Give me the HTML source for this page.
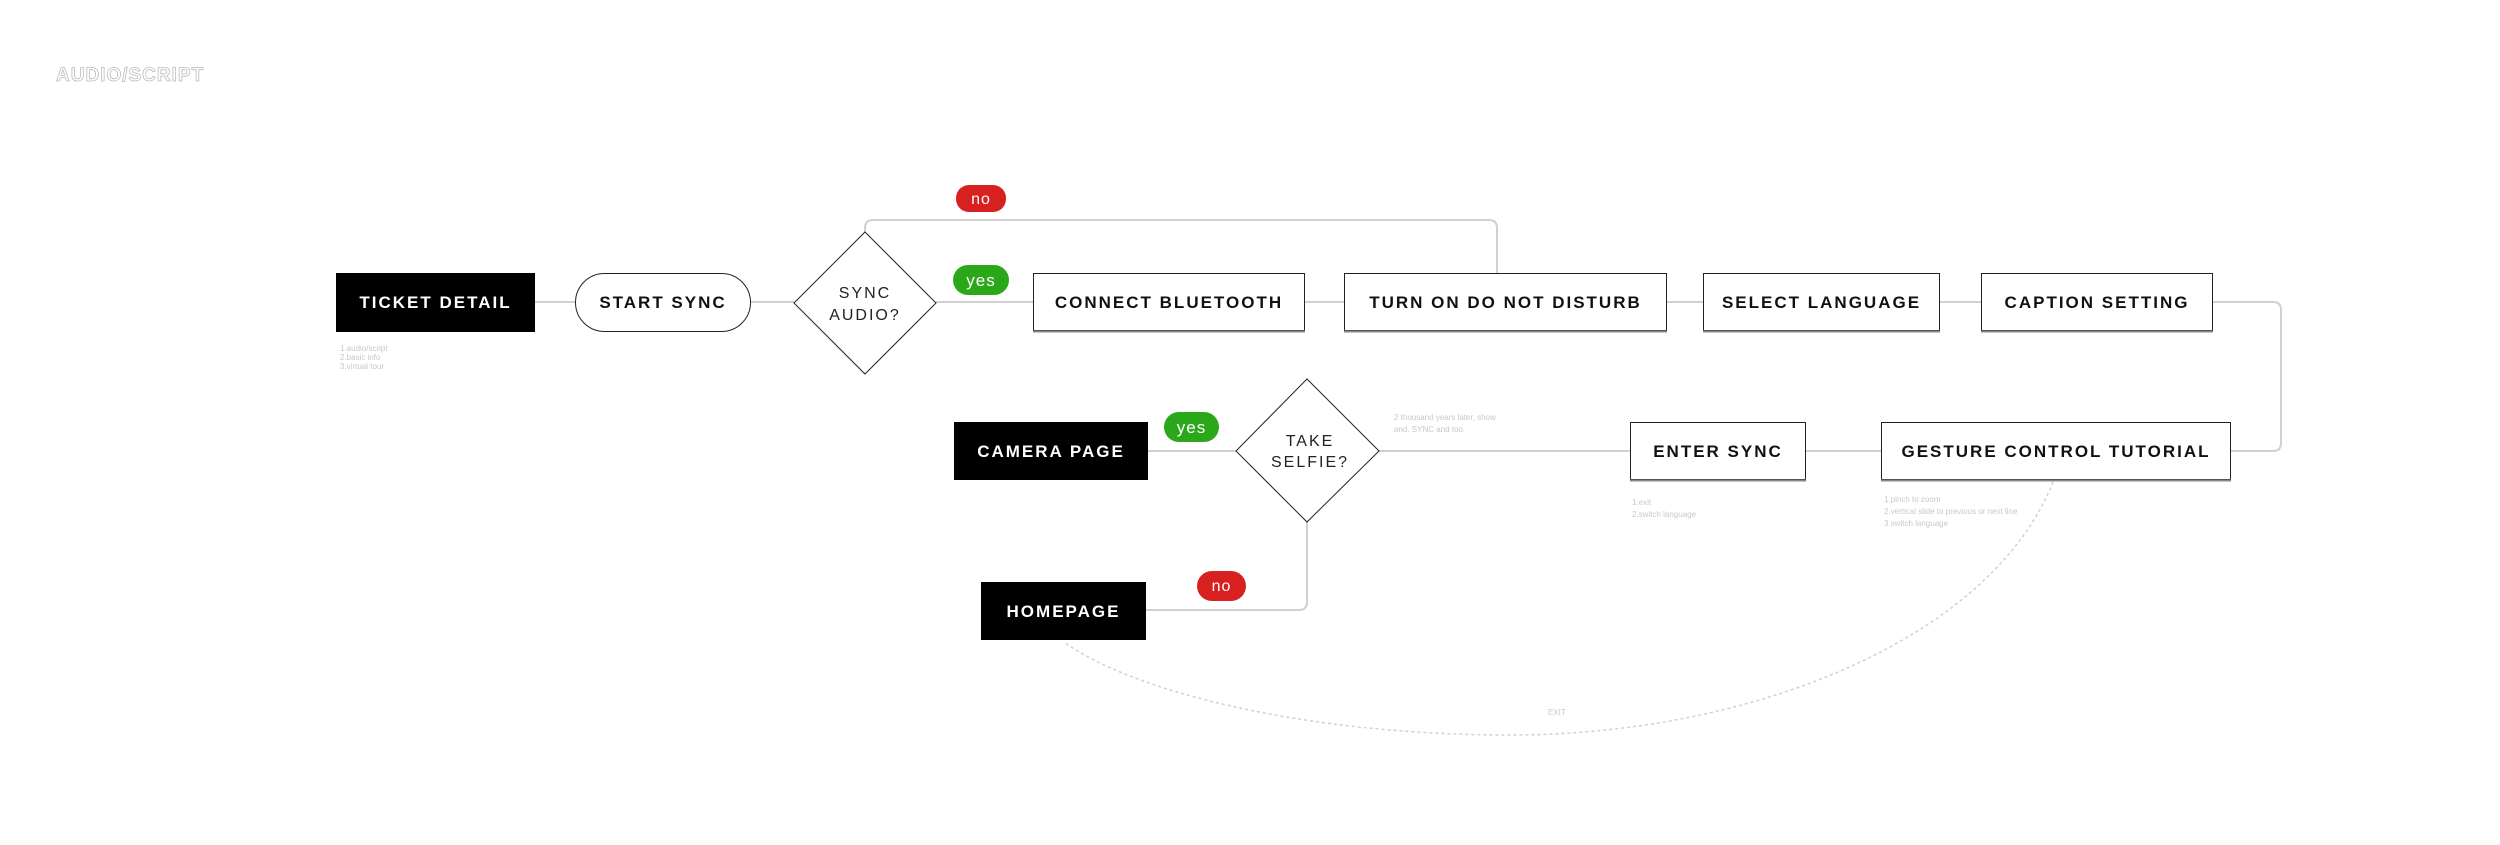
<!DOCTYPE html>
<html><head><meta charset="utf-8"><style>
html,body{margin:0;padding:0;background:#fff;}
svg{display:block;font-family:"Liberation Sans",sans-serif;}
.b{font-weight:bold;font-size:17px;letter-spacing:2px;}
.n{font-size:8px;fill:#c8c8c8;}
</style></head><body>
<svg width="2500" height="845" viewBox="0 0 2500 845" xmlns="http://www.w3.org/2000/svg">
<text x="56" y="81" font-size="19" font-weight="bold" fill="#fff" stroke="#bbb" stroke-width="0.8" letter-spacing="1">AUDIO/SCRIPT</text>

<g fill="none" stroke="#d0d0d0" stroke-width="2">
<line x1="535" y1="302" x2="575" y2="302"/>
<line x1="751" y1="302" x2="794" y2="302"/>
<line x1="936" y1="302" x2="1033" y2="302"/>
<line x1="1305" y1="302" x2="1344" y2="302"/>
<line x1="1667" y1="302" x2="1703" y2="302"/>
<line x1="1940" y1="302" x2="1981" y2="302"/>
<path d="M865,232 V228 Q865,220 873,220 H1489 Q1497,220 1497,228 V273"/>
<path d="M2213,302 H2273 Q2281,302 2281,310 V443 Q2281,451 2273,451 H2231"/>
<line x1="1881" y1="451" x2="1806" y2="451"/>
<line x1="1630" y1="451" x2="1379" y2="451"/>
<line x1="1236" y1="451" x2="1148" y2="451"/>
<path d="M1307,522 V602 Q1307,610 1299,610 H1146"/>
<path d="M2053,482 C1990,640 1750,735 1510,735 C1300,735 1130,690 1064,642" stroke-dasharray="3,3" stroke-width="1.5"/>
</g>
<text x="1548" y="715" class="n" font-size="10">EXIT</text>

<!-- row 1 -->
<rect x="336" y="273" width="199" height="59" fill="#000"/>
<text x="435.5" y="308" class="b" fill="#fff" text-anchor="middle">TICKET DETAIL</text>
<text x="340" y="351" class="n">1.audio/script</text>
<text x="340" y="360" class="n">2.basic info</text>
<text x="340" y="369" class="n">3.virtual tour</text>

<rect x="575.5" y="273.5" width="175" height="58" rx="29" fill="#fff" stroke="#222" stroke-width="1"/>
<text x="663" y="308" class="b" fill="#111" text-anchor="middle">START SYNC</text>

<polygon points="865,232 936,303 865,374 794,303" fill="#fff" stroke="#222" stroke-width="1"/>
<text x="865" y="298" font-size="16" letter-spacing="2" fill="#222" text-anchor="middle">SYNC</text>
<text x="865" y="320" font-size="16" letter-spacing="2" fill="#222" text-anchor="middle">AUDIO?</text>

<rect x="956" y="185" width="50" height="27" rx="13" fill="#d92020"/>
<text x="981" y="204" font-size="16" fill="#fff" text-anchor="middle" letter-spacing="1">no</text>
<rect x="953" y="265" width="56" height="30" rx="15" fill="#2aa81a"/>
<text x="981" y="286" font-size="17" fill="#fff" text-anchor="middle" letter-spacing="1">yes</text>

<g fill="#fff" stroke="#222" stroke-width="1">
<rect x="1033.5" y="273.5" width="271" height="57"/>
<rect x="1344.5" y="273.5" width="322" height="57"/>
<rect x="1703.5" y="273.5" width="236" height="57"/>
<rect x="1981.5" y="273.5" width="231" height="57"/>
<rect x="1630.5" y="422.5" width="175" height="57"/>
<rect x="1881.5" y="422.5" width="349" height="57"/>
</g>
<g stroke="#888" stroke-width="2">
<line x1="1033" y1="331.5" x2="1305" y2="331.5"/>
<line x1="1344" y1="331.5" x2="1667" y2="331.5"/>
<line x1="1703" y1="331.5" x2="1940" y2="331.5"/>
<line x1="1981" y1="331.5" x2="2213" y2="331.5"/>
<line x1="1630" y1="480.5" x2="1806" y2="480.5"/>
<line x1="1881" y1="480.5" x2="2231" y2="480.5"/>
</g>
<g class="b" fill="#111" text-anchor="middle">
<text x="1169" y="308">CONNECT BLUETOOTH</text>
<text x="1505.5" y="308">TURN ON DO NOT DISTURB</text>
<text x="1821.5" y="308">SELECT LANGUAGE</text>
<text x="2097" y="308">CAPTION SETTING</text>
<text x="1718" y="457">ENTER SYNC</text>
<text x="2056" y="457">GESTURE CONTROL TUTORIAL</text>
</g>

<!-- row 2 -->
<rect x="954" y="422" width="194" height="58" fill="#000"/>
<text x="1051" y="457" class="b" fill="#fff" text-anchor="middle">CAMERA PAGE</text>
<rect x="1164" y="412" width="55" height="30" rx="15" fill="#2aa81a"/>
<text x="1191.5" y="433" font-size="17" fill="#fff" text-anchor="middle" letter-spacing="1">yes</text>

<polygon points="1307,379 1379,451 1307,522 1236,451" fill="#fff" stroke="#222" stroke-width="1"/>
<text x="1310" y="446" font-size="16" letter-spacing="2" fill="#222" text-anchor="middle">TAKE</text>
<text x="1310" y="467" font-size="16" letter-spacing="2" fill="#222" text-anchor="middle">SELFIE?</text>

<text x="1394" y="420" class="n">2 thousand years later, show</text>
<text x="1394" y="432" class="n">and. SYNC and too.</text>
<text x="1632" y="505" class="n">1.exit</text>
<text x="1632" y="517" class="n">2.switch language</text>
<text x="1884" y="502" class="n">1.pinch to zoom</text>
<text x="1884" y="514" class="n">2.vertical slide to previous or next line</text>
<text x="1884" y="526" class="n">3.switch language</text>

<rect x="981" y="582" width="165" height="58" fill="#000"/>
<text x="1063.5" y="617" class="b" fill="#fff" text-anchor="middle">HOMEPAGE</text>
<rect x="1197" y="571" width="49" height="30" rx="15" fill="#d92020"/>
<text x="1221.5" y="591" font-size="16" fill="#fff" text-anchor="middle" letter-spacing="1">no</text>
</svg>
</body></html>
